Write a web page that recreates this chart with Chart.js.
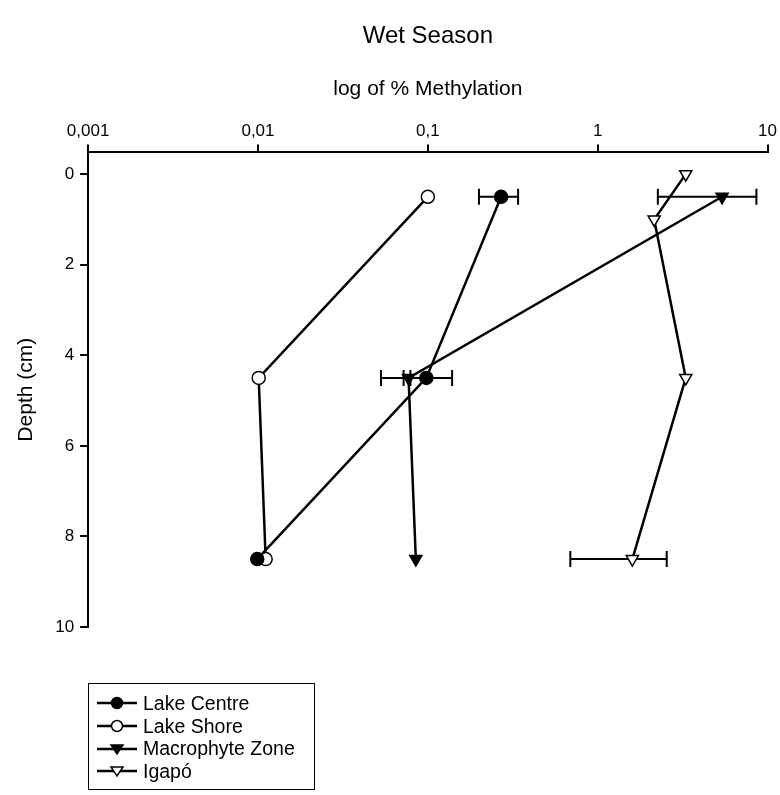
<!DOCTYPE html>
<html>
<head>
<meta charset="utf-8">
<script src="https://cdn.jsdelivr.net/npm/chart.js@4"></script>
<style>
  body { margin: 0; background: #fff; font-family: "Liberation Sans", Arial, sans-serif; }
  #wrap { position: relative; width: 780px; height: 795px; }
  #legend {
    position: absolute; left: 88px; top: 683px; width: 227px; height: 107px;
    border: 1.5px solid #000; box-sizing: border-box; padding-top: 8px;
  }
  .item { display: flex; align-items: center; height: 22.7px; font-size: 19.5px; color: #000; }
  .item svg { margin-left: 8px; margin-right: 6px; }
</style>
</head>
<body>
<div id="wrap">
  <canvas id="chart" width="780" height="795"></canvas>
  <div id="legend"></div>
</div>
<script>
// depth (cm) and % methylation per site
const lakeCentreDepth = [0.5, 4.5, 8.5];
const lakeCentreMeth = [0.27, 0.098, 0.0099];
const lakeCentreLow = [0.20, 0.053, null];
const lakeCentreHigh = [0.34, 0.139, null];

const lakeShoreDepth = [0.5, 4.5, 8.5];
const lakeShoreMeth = [0.1, 0.0101, 0.0111];

const macroDepth = [0.5, 4.5, 8.5];
const macroMeth = [5.4, 0.077, 0.085];
const macroLow = [2.26, 0.072, null];
const macroHigh = [8.6, 0.079, null];

const igapoDepth = [0, 1, 4.5, 8.5];
const igapoMeth = [3.3, 2.15, 3.3, 1.6];
const igapoLow = [null, null, null, 0.69];
const igapoHigh = [null, null, null, 2.55];

const xTicks = [0.001, 0.01, 0.1, 1, 10];
const xTickLabels = ['0,001', '0,01', '0,1', '1', '10'];
const yTicks = [0, 2, 4, 6, 8, 10];

function pts(depth, meth) {
    return depth.map(function(d, i) { return { x: meth[i], y: d }; });
}

function series(label, depth, meth, style, fill, rot, low, high) {
    return {
        label: label,
        data: pts(depth, meth),
        showLine: true,
        borderColor: '#000',
        borderWidth: 2.5,
        pointStyle: style,
        pointRotation: rot,
        pointRadius: style === 'triangle' ? 7 : 6.5,
        pointBackgroundColor: fill,
        pointBorderColor: '#000',
        pointBorderWidth: 1.5,
        errLow: low,
        errHigh: high
    };
}

// horizontal error bars with caps
const errorBars = {
    id: 'errorBars',
    beforeDatasetsDraw: function(chart) {
        const ctx = chart.ctx;
        const xs = chart.scales.x, ys = chart.scales.y;
        ctx.save();
        ctx.strokeStyle = '#000';
        ctx.lineWidth = 2;
        chart.data.datasets.forEach(function(ds) {
            if (!ds.errLow) return;
            ds.data.forEach(function(p, i) {
                if (ds.errLow[i] == null) return;
                const x1 = xs.getPixelForValue(ds.errLow[i]);
                const x2 = xs.getPixelForValue(ds.errHigh[i]);
                const y = ys.getPixelForValue(p.y);
                ctx.beginPath();
                ctx.moveTo(x1, y); ctx.lineTo(x2, y);
                ctx.moveTo(x1, y - 8); ctx.lineTo(x1, y + 8);
                ctx.moveTo(x2, y - 8); ctx.lineTo(x2, y + 8);
                ctx.stroke();
            });
        });
        ctx.restore();
    }
};

// center the title over the plot area, not the canvas
const titleOverPlot = {
    id: 'titleOverPlot',
    afterLayout: function(chart) {
        const t = chart.titleBlock;
        if (!t) return;
        t.left = chart.chartArea.left;
        t.right = chart.chartArea.right;
        t.width = t.right - t.left;
    }
};

const datasets = [
    series('Lake Centre', lakeCentreDepth, lakeCentreMeth, 'circle', '#000', 0, lakeCentreLow, lakeCentreHigh),
    series('Lake Shore', lakeShoreDepth, lakeShoreMeth, 'circle', '#fff', 0, null, null),
    series('Macrophyte Zone', macroDepth, macroMeth, 'triangle', '#000', 180, macroLow, macroHigh),
    series('Igapó', igapoDepth, igapoMeth, 'triangle', '#fff', 180, igapoLow, igapoHigh)
];

const ctx = document.getElementById('chart').getContext('2d');
new Chart(ctx, {
    type: 'scatter',
    data: { datasets: datasets },
    options: {
        responsive: false,
        animation: false,
        layout: { padding: { top: 22, right: 2, bottom: 168, left: 14 } },
        plugins: {
            legend: { display: false },
            tooltip: { enabled: false },
            title: {
                display: true,
                text: 'Wet Season',
                color: '#000',
                font: { family: 'Liberation Sans', size: 24, weight: 'normal' },
                padding: { top: 0, bottom: 26 }
            }
        },
        scales: {
            x: {
                type: 'logarithmic',
                position: 'top',
                min: 0.001,
                max: 10,
                afterBuildTicks: function(axis) {
                    axis.ticks = xTicks.map(function(v) { return { value: v }; });
                },
                ticks: {
                    color: '#000',
                    font: { family: 'Liberation Sans', size: 17 },
                    padding: 3,
                    maxRotation: 0,
                    callback: function(v) {
                        const i = xTicks.indexOf(v);
                        return i >= 0 ? xTickLabels[i] : '';
                    }
                },
                grid: { drawOnChartArea: false, color: '#000', tickLength: 8, lineWidth: 2 },
                border: { color: '#000', width: 2 },
                title: {
                    display: true,
                    text: 'log of % Methylation',
                    color: '#000',
                    font: { family: 'Liberation Sans', size: 21 },
                    padding: { top: 0, bottom: 16 }
                }
            },
            y: {
                reverse: true,
                min: -0.48,
                max: 10,
                afterBuildTicks: function(axis) {
                    axis.ticks = yTicks.map(function(v) { return { value: v }; });
                },
                ticks: {
                    color: '#000',
                    font: { family: 'Liberation Sans', size: 17 },
                    padding: 6
                },
                grid: { drawOnChartArea: false, color: '#000', tickLength: 8, lineWidth: 2 },
                border: { color: '#000', width: 2 },
                title: {
                    display: true,
                    text: 'Depth (cm)',
                    color: '#000',
                    font: { family: 'Liberation Sans', size: 21 },
                    padding: { top: 0, bottom: 10 }
                }
            }
        }
    },
    plugins: [errorBars, titleOverPlot]
});

// legend below the plot
function symbol(style, fill) {
    let mark;
    if (style === 'circle') {
        mark = '<circle cx="20" cy="8" r="5.5" fill="' + fill + '" stroke="#000" stroke-width="1.5"/>';
    } else {
        mark = '<polygon points="14,4 26,4 20,13" fill="' + fill + '" stroke="#000" stroke-width="1.5"/>';
    }
    return '<svg width="40" height="16"><line x1="0" y1="8" x2="40" y2="8" stroke="#000" stroke-width="2.5"/>' + mark + '</svg>';
}
const legendEl = document.getElementById('legend');
datasets.forEach(function(ds) {
    const div = document.createElement('div');
    div.className = 'item';
    div.innerHTML = symbol(ds.pointStyle, ds.pointBackgroundColor) + '<span>' + ds.label + '</span>';
    legendEl.appendChild(div);
});
</script>
</body>
</html>
